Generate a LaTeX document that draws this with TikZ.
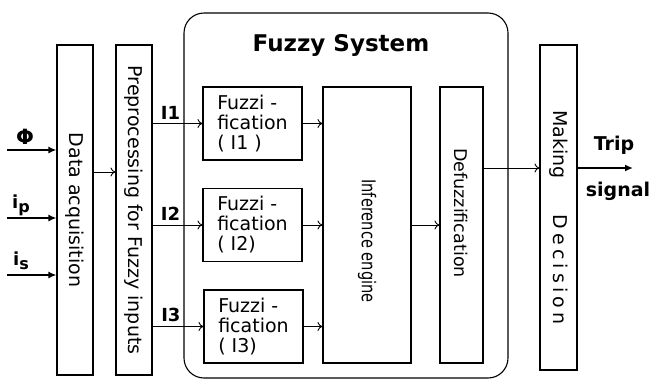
\documentclass[tikz,border=0pt]{standalone}
\usepackage{fontspec}
\setmainfont{DejaVu Sans}
\usetikzlibrary{arrows.meta,positioning}

\tikzset{
  blk/.style={draw,line width=1.1pt,inner sep=0pt,font=\fontsize{19}{20}\selectfont},
  fuzbox/.style={blk,minimum width=99pt,minimum height=73pt,align=left},
  thinarr/.style={line width=0.9pt,-{To[length=5pt,width=9pt]}},
  thickarr/.style={line width=1.6pt,-{Latex[length=8pt,width=7pt]}},
  lbl/.style={font=\bfseries\fontsize{18}{18}\selectfont,inner sep=0pt},
}

\begin{document}
\begin{tikzpicture}[x=1pt,y=-1pt]
\useasboundingbox (0,0) rectangle (655,381);

% fuzzy system frame
\node[blk,rounded corners=20pt,minimum width=324pt,minimum height=365pt] (fsys) at (346,195.5) {};
\node[font=\bfseries\fontsize{23}{23}\selectfont] (title) at (341,45) {Fuzzy System};

% blocks
\node[blk,minimum width=36pt,minimum height=330pt] (acq) at (75,210) {\rotatebox{-90}{Data acquisition}};
\node[blk,minimum width=36pt,minimum height=330pt] (prep) at (134,210) {\rotatebox{-90}{Preprocessing for Fuzzy inputs}};
\node[fuzbox] (fuz1) at (252.5,123.5) {Fuzzi -\\fication\\( I1 )};
\node[fuzbox] (fuz2) at (252.5,225) {Fuzzi -\\fication\\( I2)};
\node[fuzbox] (fuz3) at (253.5,326.5) {Fuzzi -\\fication\\( I3)};
\node[blk,minimum width=88pt,minimum height=276pt] (inf) at (367,225) {\rotatebox{-90}{\hspace{32pt}\scalebox{0.77}[1]{Inference engine}}};
\node[blk,minimum width=43pt,minimum height=276pt,font=\fontsize{17.5}{18}\selectfont] (defuz) at (461.5,225) {\rotatebox{-90}{Defuzzification\hspace{24pt}}};
\node[blk,minimum width=37pt,minimum height=325pt] (dec) at (558.5,207.5) {\rotatebox{-90}{\hspace{20pt}Making\hspace{36pt}{\addfontfeature{LetterSpace=22}Decision}}};

% inputs
\coordinate (in1) at (7,150);
\coordinate (in2) at (7,218);
\coordinate (in3) at (7,275);
\draw[thickarr] (in1) -- (in1 -| acq.west);
\draw[thickarr] (in2) -- (in2 -| acq.west);
\draw[thickarr] (in3) -- (in3 -| acq.west);
\node[lbl,font=\bfseries\fontsize{21}{21}\selectfont] (phi) at (25,137) {Φ};
\node[lbl] (ip) at (21,205) {i\raisebox{-4pt}{\fontsize{16}{16}\selectfont p}};
\node[lbl] (is) at (21,261) {i\raisebox{-4pt}{\fontsize{16}{16}\selectfont s}};

% connections
\coordinate (ap) at (0,172);
\draw[thinarr] (acq.east |- ap) -- (prep.west |- ap);
\draw[thinarr] (prep.east |- fuz1) -- (fuz1.west) node[lbl,above=4pt,pos=0.36] {I1};
\draw[thinarr] (prep.east |- fuz2) -- (fuz2.west) node[lbl,above=4pt,pos=0.36] {I2};
\draw[thinarr] (prep.east |- fuz3) -- (fuz3.west) node[lbl,above=4pt,pos=0.36] {I3};
\draw[thinarr] (fuz1.east) -- (fuz1.east -| inf.west);
\draw[thinarr] (fuz2.east) -- (fuz2.east -| inf.west);
\draw[thinarr] (fuz3.east) -- (fuz3.east -| inf.west);
\draw[thinarr] (inf.east) -- (defuz.west);
\coordinate (dd) at (0,168);
\draw[thinarr] (defuz.east |- dd) -- (dec.west |- dd);
\coordinate (trip) at (633,168);
\draw[thickarr] (dec.east |- trip) -- (trip);
\node[lbl,font=\bfseries\fontsize{19}{19}\selectfont] (triplbl) at (614,145) {Trip};
\node[lbl,font=\bfseries\fontsize{19}{19}\selectfont] (siglbl) at (618,191) {signal};

\end{tikzpicture}
\end{document}
